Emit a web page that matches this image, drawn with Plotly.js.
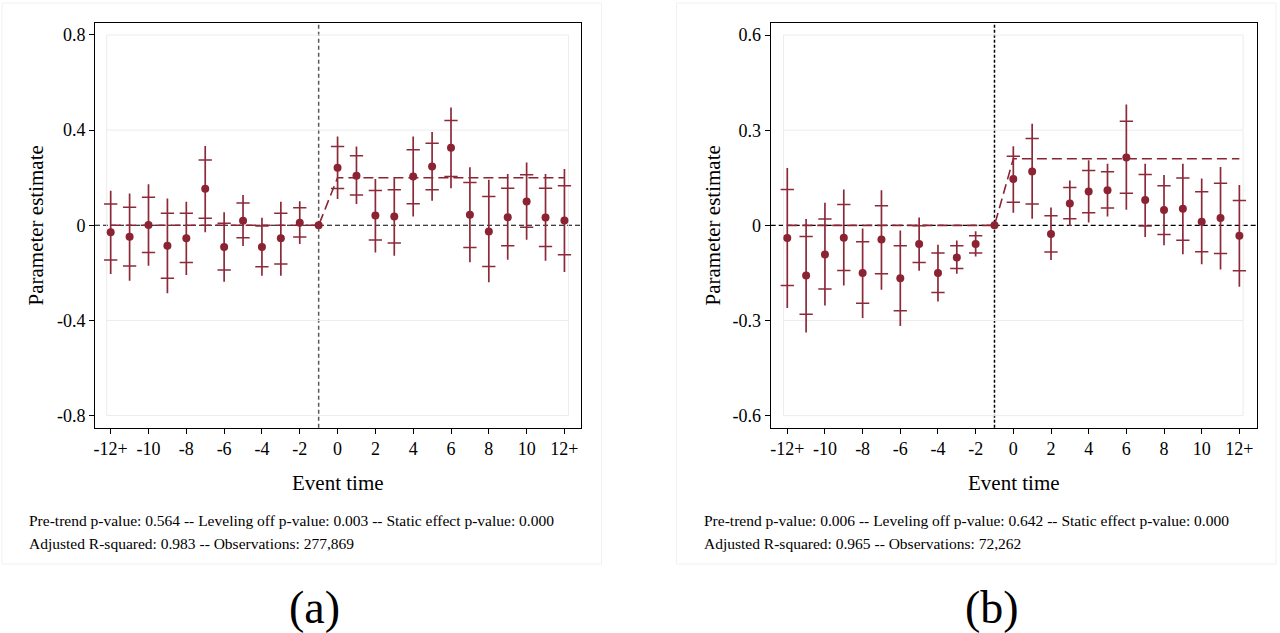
<!DOCTYPE html>
<html>
<head>
<meta charset="utf-8">
<script src="https://cdn.plot.ly/plotly-3.0.1.min.js"></script>
<style>html,body{margin:0;padding:0;background:#fff;}#chart{width:1280px;height:633px;}</style>
</head>
<body>
<div id="chart"></div>
<script>
// ---------- data ----------
const eventTime = [-12,-11,-10,-9,-8,-7,-6,-5,-4,-3,-2,-1,0,1,2,3,4,5,6,7,8,9,10,11,12];
const xTickVals = [-12,-10,-8,-6,-4,-2,0,2,4,6,8,10,12];
const xTickText = ['-12+','-10','-8','-6','-4','-2','0','2','4','6','8','10','12+'];

// Panel (a)
const estA     = [-0.029,-0.048,0.001,-0.086,-0.055,0.153,-0.091,0.019,-0.091,-0.055,0.011,0, 0.242,0.208,0.041,0.037,0.205,0.247,0.326,0.044,-0.026,0.034,0.100,0.033,0.020];
const innerHiA = [0.089,0.076,0.118,0.050,0.050,0.274,0.008,0.094,-0.003,0.050,0.074,null, 0.331,0.292,0.146,0.149,0.317,0.345,0.440,0.180,0.121,0.156,0.212,0.156,0.166];
const innerLoA = [-0.146,-0.171,-0.114,-0.223,-0.157,0.029,-0.188,-0.053,-0.174,-0.163,-0.049,null, 0.155,0.127,-0.062,-0.075,0.090,0.149,0.205,-0.093,-0.173,-0.086,-0.008,-0.089,-0.124];
const outerHiA = [0.145,0.134,0.172,0.113,0.099,0.333,0.055,0.127,0.032,0.099,0.101,null, 0.373,0.331,0.194,0.198,0.373,0.392,0.495,0.244,0.191,0.215,0.264,0.215,0.237];
const outerLoA = [-0.205,-0.233,-0.170,-0.286,-0.209,-0.029,-0.237,-0.087,-0.212,-0.212,-0.079,null, 0.110,0.089,-0.114,-0.128,0.037,0.103,0.156,-0.156,-0.240,-0.145,-0.061,-0.149,-0.197];
const fitTimeA = [-12,-1,0,12];
const fitA     = [0,0,0.2,0.2];
const yTickValsA = [-0.8,-0.4,0,0.4,0.8];
const yTickTextA = ['-0.8','-0.4','0','0.4','0.8'];
const statsA = ['Pre-trend p-value: 0.564 -- Leveling off p-value: 0.003 -- Static effect p-value: 0.000',
                'Adjusted R-squared: 0.983 -- Observations: 277,869'];

// Panel (b)
const estB     = [-0.040,-0.158,-0.092,-0.039,-0.150,-0.045,-0.167,-0.059,-0.150,-0.101,-0.059,0, 0.146,0.170,-0.027,0.069,0.107,0.111,0.214,0.080,0.048,0.052,0.011,0.023,-0.033];
const innerHiB = [0.113,-0.035,0.020,0.066,-0.052,0.062,-0.064,-0.001,-0.087,-0.064,-0.033,null, 0.218,0.274,0.030,0.119,0.173,0.169,0.328,0.160,0.125,0.149,0.106,0.133,0.078];
const innerLoB = [-0.190,-0.280,-0.201,-0.142,-0.246,-0.153,-0.269,-0.117,-0.212,-0.136,-0.087,null, 0.073,0.067,-0.084,0.021,0.040,0.055,0.101,-0.002,-0.029,-0.047,-0.083,-0.089,-0.143];
const outerHiB = [0.181,0.020,0.071,0.113,-0.010,0.111,-0.016,0.025,-0.061,-0.048,-0.019,null, 0.249,0.320,0.056,0.141,0.205,0.194,0.381,0.194,0.159,0.194,0.148,0.184,0.127];
const outerLoB = [-0.261,-0.338,-0.253,-0.190,-0.292,-0.203,-0.317,-0.143,-0.240,-0.153,-0.098,null, 0.040,0.021,-0.109,-0.002,0.009,0.028,0.049,-0.037,-0.063,-0.091,-0.123,-0.139,-0.194];
const fitTimeB = [-12,-1,0,12];
const fitB     = [0,0,0.21,0.21];
const yTickValsB = [-0.6,-0.3,0,0.3,0.6];
const yTickTextB = ['-0.6','-0.3','0','0.3','0.6'];
const statsB = ['Pre-trend p-value: 0.006 -- Leveling off p-value: 0.642 -- Static effect p-value: 0.000',
                'Adjusted R-squared: 0.965 -- Observations: 72,262'];

// ---------- styling ----------
const FONT = 'Liberation Serif, Times New Roman, serif';
const DOT = '#8c2333';
const BAR = '#8c2a3a';
const GRID = '#ececec';
const W = 1280, H = 633;
const px = v => v / W;
const py = v => 1 - v / H;

function panelTraces(est, iHi, iLo, oHi, oLo, fitX, fitY, xa, ya) {
  const plus = est.map((e, i) => oHi[i] == null ? 0 : oHi[i] - e);
  const minus = est.map((e, i) => oLo[i] == null ? 0 : e - oLo[i]);
  const tx = [], ty = [];
  eventTime.forEach((t, i) => {
    if (iHi[i] != null) { tx.push(t); ty.push(iHi[i]); }
    if (iLo[i] != null) { tx.push(t); ty.push(iLo[i]); }
  });
  return [
    {x: fitX, y: fitY, xaxis: xa, yaxis: ya, mode: 'lines', type: 'scatter',
     line: {color: DOT, width: 1.6, dash: '10px,5px'}, hoverinfo: 'skip'},
    {x: eventTime, y: est, xaxis: xa, yaxis: ya, mode: 'markers', type: 'scatter',
     marker: {color: DOT, size: 8},
     error_y: {type: 'data', symmetric: false, array: plus, arrayminus: minus,
               width: 0, thickness: 1.7, color: BAR}},
    {x: tx, y: ty, xaxis: xa, yaxis: ya, mode: 'markers', type: 'scatter',
     marker: {symbol: 'line-ew', size: 9.5, color: BAR, line: {color: BAR, width: 1.5}}}
  ];
}

const data = [
  ...panelTraces(estA, innerHiA, innerLoA, outerHiA, outerLoA, fitTimeA, fitA, 'x', 'y'),
  ...panelTraces(estB, innerHiB, innerLoB, outerHiB, outerLoB, fitTimeB, fitB, 'x2', 'y2')
];

function xAxis(domain, range) {
  return {domain, range, showline: true, mirror: true, linecolor: '#000', linewidth: 1,
    ticks: 'outside', ticklen: 5, tickcolor: '#000', tickwidth: 1,
    tickvals: xTickVals, ticktext: xTickText, tickfont: {family: FONT, size: 18, color: '#000'},
    showgrid: false, zeroline: false, fixedrange: true};
}
function yAxis(anchor, range, vals, text) {
  return {anchor, domain: [py(427.7), py(23.3)], range, showline: true, mirror: true,
    linecolor: '#000', linewidth: 1, ticks: 'outside', ticklen: 5, tickcolor: '#000', tickwidth: 1,
    tickvals: vals, ticktext: text, tickfont: {family: FONT, size: 18, color: '#000'},
    showgrid: false, zeroline: false, fixedrange: true};
}

const shapes = [];
// outer panel borders
shapes.push({type: 'rect', xref: 'paper', yref: 'paper', x0: px(2), x1: px(601.5), y0: py(564), y1: py(3),
  line: {color: '#f1f1f1', width: 1}, layer: 'below'});
shapes.push({type: 'rect', xref: 'paper', yref: 'paper', x0: px(676.5), x1: px(1276), y0: py(564), y1: py(3),
  line: {color: '#f1f1f1', width: 1}, layer: 'below'});

function panelShapes(xr, yr, ticks, innerX, vColor, vDash) {
  const ymin = Math.min(...ticks), ymax = Math.max(...ticks);
  shapes.push({type: 'rect', xref: xr, yref: yr, x0: -innerX, x1: innerX, y0: ymin, y1: ymax,
    line: {color: GRID, width: 1}, layer: 'below'});
  ticks.forEach(v => {
    if (v !== 0 && v !== ymin && v !== ymax)
      shapes.push({type: 'line', xref: xr, yref: yr, x0: -innerX, x1: innerX, y0: v, y1: v,
        line: {color: GRID, width: 1}, layer: 'below'});
  });
  shapes.push({type: 'line', xref: xr + ' domain', yref: yr, x0: 0, x1: 1, y0: 0, y1: 0,
    line: {color: '#000', width: 1.2, dash: '5px,3px'}, layer: 'below'});
  shapes.push({type: 'line', xref: xr, yref: yr + ' domain', x0: -1, x1: -1, y0: 0, y1: 1,
    line: {color: vColor, width: 1.5, dash: vDash}, layer: 'below'});
}
panelShapes('x', 'y', yTickValsA, 12.21, '#5a5a5a', '4px,3px');
panelShapes('x2', 'y2', yTickValsB, 12.2, '#000', '3px,2px');

const ann = [];
function txt(text, x, y, size, opts) {
  ann.push(Object.assign({text, xref: 'paper', yref: 'paper', x: px(x), y: py(y), showarrow: false,
    font: {family: FONT, size, color: '#000'}, xanchor: 'center', yanchor: 'middle'}, opts || {}));
}
txt('Parameter estimate', 35, 225.5, 21, {textangle: -90});
txt('Parameter estimate', 712, 225.5, 21, {textangle: -90});
txt('Event time', 338, 483, 21);
txt('Event time', 1013.7, 483, 21);
txt(statsA[0], 27, 520, 15.5, {xanchor: 'left'});
txt(statsA[1], 27, 543, 15.5, {xanchor: 'left'});
txt(statsB[0], 702, 520, 15.5, {xanchor: 'left'});
txt(statsB[1], 702, 543, 15.5, {xanchor: 'left'});
txt('(a)', 314, 607, 46);
txt('(b)', 992, 607, 46);

const layout = {
  width: W, height: H, margin: {l: 0, r: 0, t: 0, b: 0},
  paper_bgcolor: '#fff', plot_bgcolor: '#fff', showlegend: false,
  xaxis: xAxis([px(95), px(580.7)], [-12.83, 12.86]),
  yaxis: yAxis('x', [-0.851, 0.849], yTickValsA, yTickTextA),
  xaxis2: xAxis([px(770.7), px(1256.7)], [-12.88, 12.92]),
  yaxis2: yAxis('x2', [-0.638, 0.637], yTickValsB, yTickTextB),
  shapes, annotations: ann
};
layout.xaxis.anchor = 'y';
layout.xaxis2.anchor = 'y2';

Plotly.newPlot('chart', data, layout, {displayModeBar: false, staticPlot: true});
</script>
</body>
</html>
